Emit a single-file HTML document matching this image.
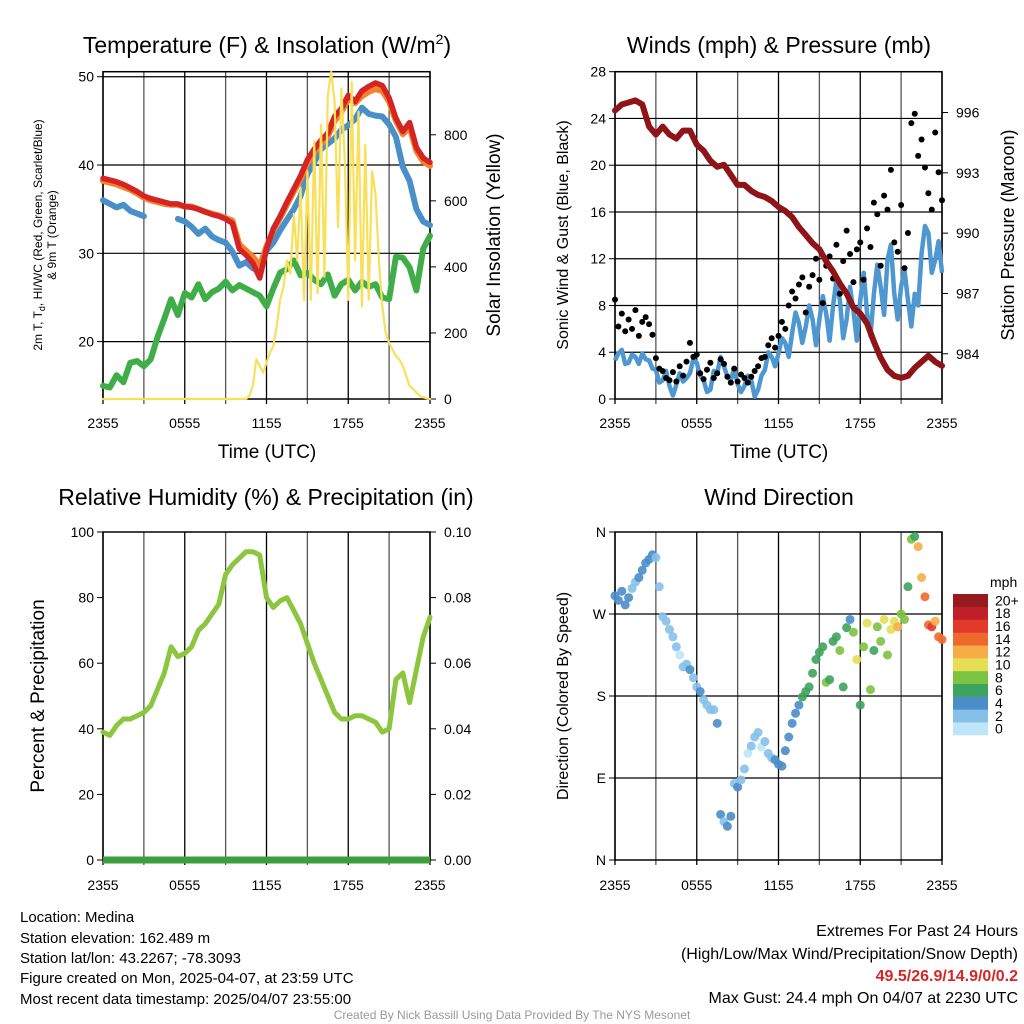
<!DOCTYPE html>
<html><head><meta charset="utf-8">
<style>
html,body{margin:0;padding:0;background:#fff;}
svg{display:block;font-family:"Liberation Sans",sans-serif;}
</style></head>
<body>
<svg id="chart" width="1024" height="1024" viewBox="0 0 1024 1024" xmlns="http://www.w3.org/2000/svg">
<rect width="1024" height="1024" fill="#fff"/>
<g id="p1"></g>
<g id="p2"></g>
<g id="p3"></g>
<g id="p4"></g>

<text x="267" y="53" font-size="23" text-anchor="middle">Temperature (F) &amp; Insolation (W/m<tspan font-size="14" dy="-9">2</tspan><tspan dy="9">)</tspan></text>
<text x="779" y="53" font-size="23" text-anchor="middle">Winds (mph) &amp; Pressure (mb)</text>
<text x="266" y="505" font-size="23" text-anchor="middle">Relative Humidity (%) &amp; Precipitation (in)</text>
<text x="779" y="505" font-size="23" text-anchor="middle">Wind Direction</text>

<text x="267" y="458" font-size="19" text-anchor="middle">Time (UTC)</text>
<text x="779" y="458" font-size="19" text-anchor="middle">Time (UTC)</text>

<text transform="translate(42,235) rotate(-90)" font-size="12" text-anchor="middle">2m T, T<tspan font-size="9" dy="3">d</tspan><tspan dy="-3">, HI/WC (Red, Green, Scarlet/Blue)</tspan></text>
<text transform="translate(56,235) rotate(-90)" font-size="12" text-anchor="middle">&amp; 9m T (Orange)</text>
<text transform="translate(500,235) rotate(-90)" font-size="19" text-anchor="middle">Solar Insolation (Yellow)</text>
<text transform="translate(568,235) rotate(-90)" font-size="16" text-anchor="middle">Sonic Wind &amp; Gust (Blue, Black)</text>
<text transform="translate(1014,235) rotate(-90)" font-size="18" text-anchor="middle">Station Pressure (Maroon)</text>
<text transform="translate(44,696) rotate(-90)" font-size="19" text-anchor="middle">Percent &amp; Precipitation</text>
<text transform="translate(568,696) rotate(-90)" font-size="16" text-anchor="middle">Direction (Colored By Speed)</text>

<g font-size="15">
<text x="20" y="922">Location: Medina</text>
<text x="20" y="943">Station elevation: 162.489 m</text>
<text x="20" y="963">Station lat/lon: 43.2267; -78.3093</text>
<text x="20" y="983">Figure created on Mon, 2025-04-07, at 23:59 UTC</text>
<text x="20" y="1004">Most recent data timestamp: 2025/04/07 23:55:00</text>
</g>
<g font-size="16" text-anchor="end">
<text x="1018" y="936">Extremes For Past 24 Hours</text>
<text x="1018" y="959">(High/Low/Max Wind/Precipitation/Snow Depth)</text>
<text x="1018" y="981" fill="#d62728" font-weight="bold">49.5/26.9/14.9/0/0.2</text>
<text x="1018" y="1003">Max Gust: 24.4 mph On 04/07 at 2230 UTC</text>
</g>
<text x="512" y="1019" font-size="12" fill="#999" text-anchor="middle">Created By Nick Bassill Using Data Provided By The NYS Mesonet</text>
</svg>
<script>
// ---------- data ----------
const xTickLabels = ["2355","0555","1155","1755","2355"];
const tempRed = [38.5,38.3,38.1,37.8,37.4,37.0,36.5,36.2,36.0,35.8,35.6,35.6,35.3,35.2,35.0,34.7,34.4,34.2,33.9,33.4,30.5,29.8,28.9,27.2,30.5,32.8,34.2,35.8,37.3,38.8,40.6,41.8,42.8,43.6,45.5,46.4,47.9,47.2,48.4,48.9,49.3,49.0,47.6,45.3,43.8,44.8,42.0,40.8,40.3];
const tempOrange = [38.2,38.0,37.8,37.5,37.2,36.8,36.3,36.0,35.8,35.6,35.5,35.5,35.3,35.3,35.0,34.7,34.5,34.3,34.0,33.7,31.0,30.3,29.6,28.6,30.8,32.6,34.0,35.5,37.0,38.4,40.2,41.4,42.4,43.2,45.0,46.0,47.5,47.0,47.8,48.3,48.6,48.4,47.2,45.0,43.5,44.3,41.6,40.4,39.9];
const tempBlue = [36.0,35.6,35.2,35.5,34.8,34.5,34.2,null,null,null,null,33.9,33.6,33.0,32.2,32.8,31.9,31.5,31.2,30.2,28.6,29.0,28.3,28.0,30.3,31.2,32.6,33.8,35.0,36.5,39.0,40.3,41.8,42.4,43.0,44.0,44.5,45.2,46.5,45.8,45.6,45.5,44.6,43.2,39.8,38.2,35.0,33.6,33.2];
const tempGreen = [15.0,14.8,16.2,15.4,17.6,17.8,17.2,18.0,20.5,22.6,24.8,23.0,25.5,25.0,26.5,24.8,25.6,26.0,26.8,25.8,26.4,26.0,25.6,25.2,24.0,26.0,27.8,28.2,29.2,27.5,27.8,27.0,26.5,27.6,25.2,26.5,27.0,25.8,26.8,26.2,26.5,25.0,24.8,29.6,29.5,28.4,25.8,30.5,32.0];
const solar = [0,0,0,0,0,0,0,0,0,0,0,0,0,0,0,0,0,0,0,0,0,0,0,0,0,0,0,0,0,0,0,0,0,0,0,0,0,0,0,0,0,0,
 0,10,40,120,100,80,110,140,160,220,300,340,420,380,560,420,640,300,690,300,780,320,830,370,920,990,900,520,940,720,300,960,420,870,280,770,300,690,620,420,280,200,170,150,130,120,100,70,40,30,20,10,5,2,0];
const tempTicks = [20,30,40,50];
const solarTicks = [0,200,400,600,800];

const pressure = [996.1,996.4,996.5,996.6,996.4,995.3,994.9,995.3,994.9,994.7,995.1,995.1,994.4,994.1,993.6,993.3,993.4,992.9,992.4,992.4,992.1,991.9,991.8,991.6,991.3,991.1,990.8,990.3,989.9,989.5,989.2,988.6,988.1,987.5,987.0,986.3,986.0,985.5,984.6,983.8,983.2,982.9,982.8,982.9,983.3,983.6,983.9,983.6,983.4];
const windSpeed = [3.3,3.9,4.2,3.0,3.1,3.8,3.6,3.0,3.9,3.4,3.3,2.6,2.5,1.4,1.6,2.4,1.1,0.3,1.2,2.2,1.5,1.8,2.2,3.4,3.1,2.0,1.6,0.6,0.8,2.4,2.2,3.6,2.8,1.9,1.6,2.6,1.3,0.6,1.1,2.0,1.6,0.2,0.8,2.0,2.5,4.0,3.6,2.8,3.9,5.2,4.8,3.6,5.6,7.4,6.5,4.8,6.2,8.0,6.8,4.6,6.8,8.8,7.3,5.0,7.9,10.2,8.5,5.2,6.8,9.6,7.6,5.0,8.5,10.8,7.3,5.4,9.0,11.5,9.6,7.2,11.9,13.2,9.0,6.8,9.6,11.0,8.5,6.2,9.0,8.0,12.5,14.8,14.2,10.8,11.9,13.5,10.8];
const windGust = [8.5,6.2,7.3,5.8,6.8,6.0,7.6,5.4,6.6,7.0,6.4,5.5,3.5,2.6,2.4,1.8,1.6,2.3,1.5,2.8,2.0,3.2,4.8,3.6,3.8,2.2,1.7,2.5,3.1,1.8,2.2,3.4,3.0,1.9,1.4,2.6,1.5,2.1,1.8,1.4,1.9,2.4,2.8,3.5,3.6,4.6,5.2,4.4,5.4,6.6,6.0,8.0,9.2,8.6,9.8,10.4,7.4,9.6,10.6,12.0,10.2,8.2,11.4,12.2,10.3,13.2,9.0,11.8,14.4,12.4,10.0,12.8,13.4,10.2,14.6,13.0,16.8,15.8,11.4,17.4,16.2,19.6,13.4,12.6,16.6,11.2,14.2,23.6,24.4,20.8,22.2,19.8,17.6,16.2,22.8,19.4,17.0];
const windTicks = [0,4,8,12,16,20,24,28];
const pressureTicks = [984,987,990,993,996];

const rh = [39,38,41,43,43,44,45,47,52,57,65,62,63,65,70,72,75,78,87,90,92,94,94,93,80,77,79,80,76,72,66,60,55,50,45,43,43,44,44,43,42,39,40,55,57,48,58,68,74];
const precip = [0,0,0,0,0,0,0,0,0,0,0,0,0,0,0,0,0,0,0,0,0,0,0,0,0];
const rhTicks = [0,20,40,60,80,100];
const precipTicks = ["0.00","0.02","0.04","0.06","0.08","0.10"];

const windDir = [290,285,295,280,288,298,305,310,318,326,330,335,332,300,267,262,253,245,234,225,212,215,209,200,190,185,176,170,165,165,150,50,42,37,48,84,80,88,100,117,125,135,140,124,130,117,112,110,105,103,120,135,150,161,170,179,185,190,205,220,228,234,195,198,240,245,230,190,255,264,250,220,170,234,260,187,230,256,240,264,225,253,262,256,270,264,300,352,355,344,310,289,258,256,262,245,242];
const dirSpeed = [3,3.5,4,3, 3.5,2.5,2.5,3, 3,3.5,3.5,3, 2.5,2,1.5,1, 1.5,2,1,0.5, 1,2,3,1.5, 1,3,2,1, 1.5,1,3.5,3, 2.5,3,3,2, 3.5,2,1,0.5, 1,2,1,0.5, 2,1,2.5,3, 3.5,4,3.5,4, 4,4.5,4,5, 5,6,5.5,6, 6,5,7,6, 5,6.5,7,5.5, 6,4,7.5,9, 6,7,10,8, 6.5,7,8.5,10, 7,9,10,12, 8,7,6.5,7, 6,11,12,14, 13,15,12,14, 14];
const dirTickLabels = ["N","E","S","W","N"];
const speedBinLabels = ["0","2","4","6","8","10","12","14","16","18","20+"];

// ---------- helpers ----------
const NS = "http://www.w3.org/2000/svg";
function mk(parent, tag, attrs){
  const e = document.createElementNS(NS, tag);
  for (const k in attrs) e.setAttribute(k, attrs[k]);
  parent.appendChild(e);
  return e;
}
function lin(d0,d1,r0,r1){ return v => r0 + (v-d0)*(r1-r0)/(d1-d0); }
function pathFrom(arr, xf, yf){
  let d = "", pen = false;
  const n = arr.length;
  arr.forEach((v,i)=>{
    if (v===null){ pen=false; return; }
    d += (pen?"L":"M") + xf(i*24/(n-1)).toFixed(1) + "," + yf(v).toFixed(1);
    pen = true;
  });
  return d;
}
function frame(g, P, vGrid, hVals, yf, leftLabels, rightVals, yr, rightLabels, bottomLabelY){
  const xf = lin(0,24,P.x0,P.x1);
  for (let h=0; h<=24; h+=3){
    const l = mk(g,"line",{x1:xf(h),x2:xf(h),y1:P.y0,y2:P.y1+5,stroke:(h%6===0?"#000":"#555"),"stroke-width":1.3});
    
    
  }
  hVals.forEach(v=>{
    const l = mk(g,"line",{x1:P.x0,x2:P.x1,y1:yf(v),y2:yf(v),stroke:"#000","stroke-width":1.2});
    
    
  });
  xTickLabels.forEach((t,i)=>{
    const tx = mk(g,"text",{x:xf(i*6),y:bottomLabelY,"font-size":14,"text-anchor":"middle"});
    tx.textContent = t;
    
    
  });
  leftLabels.forEach(([v,t])=>{
    mk(g,"line",{x1:P.x0-6,x2:P.x0,y1:yf(v),y2:yf(v),stroke:"#000"});
    const tx = mk(g,"text",{x:P.x0-9,y:yf(v)+5,"font-size":14,"text-anchor":"end"});
    tx.textContent = t;
    
    
  });
  if (rightVals){
    rightVals.forEach(([v,t])=>{
      mk(g,"line",{x1:P.x1,x2:P.x1+6,y1:yr(v),y2:yr(v),stroke:"#000"});
      const tx = mk(g,"text",{x:P.x1+14,y:yr(v)+5,"font-size":14});
      tx.textContent = t;
      
      
    });
  }
  const b = mk(g,"rect",{x:P.x0,y:P.y0,width:P.x1-P.x0,height:P.y1-P.y0,fill:"none",stroke:"#000","stroke-width":1.5});
  
  
  return xf;
}

// ---------- panel 1 ----------
(function(){
  const g = document.getElementById("p1");
  const P = {x0:103,x1:430,y0:71.7,y1:399};
  const yf = lin(13.5,50.57,P.y1,P.y0);
  const yr = lin(0,991,P.y1,P.y0);
  const xf = frame(g,P,true,tempTicks,yf,tempTicks.map(v=>[v,String(v)]),solarTicks.map(v=>[v,String(v)]),yr,null,428);
  const series = [[tempGreen,"#3fae49",6,"dewpoint-line"],[solar,"#f8e05a",2.2,"solar-line"],[tempOrange,"#f5822a",6,"temp-9m-line"],[tempBlue,"#4a90c8",6,"heat-index-line"],[tempRed,"#d42424",6,"temp-2m-line"]];
  // draw order: green, blue, orange, red, then solar on top
  [[tempGreen,"#3fae49",6,"dewpoint-line",yf],[tempBlue,"#4a90c8",6,"heat-index-line",yf],[tempOrange,"#f5822a",6,"temp-9m-line",yf],[tempRed,"#d42424",5.5,"temp-2m-line",yf],[solar,"#f8e05a",2.2,"solar-line",yr]].forEach(s=>{
    const p = mk(g,"path",{d:pathFrom(s[0],xf,s[4]),fill:"none",stroke:s[1],"stroke-width":s[2],"stroke-linejoin":"round","stroke-linecap":"round"});
    
    
  });
})();

// ---------- panel 2 ----------
(function(){
  const g = document.getElementById("p2");
  const P = {x0:615,x1:942,y0:71.7,y1:399};
  const yf = lin(0,28,P.y1,P.y0);
  const yr = lin(981.75,998.03,P.y1,P.y0);
  const xf = frame(g,P,true,windTicks.slice(1),yf,windTicks.map(v=>[v,String(v)]),pressureTicks.map(v=>[v,String(v)]),yr,null,428);
  const w = mk(g,"path",{d:pathFrom(windSpeed,xf,yf),fill:"none",stroke:"#4f97d0","stroke-width":4.5,"stroke-linejoin":"round"});
  
  
  windGust.forEach((v,i)=>{
    const c = mk(g,"circle",{cx:xf(i*24/(windGust.length-1)),cy:yf(v),r:3,fill:"#000"});
    
    
  });
  const p = mk(g,"path",{d:pathFrom(pressure,xf,yr),fill:"none",stroke:"#8e1418","stroke-width":6,"stroke-linejoin":"round","stroke-linecap":"round"});
  
  
})();

// ---------- panel 3 ----------
(function(){
  const g = document.getElementById("p3");
  const P = {x0:103,x1:430,y0:532,y1:860};
  const yf = lin(0,100,P.y1,P.y0);
  const xf = frame(g,P,true,[],yf,rhTicks.map(v=>[v,String(v)]),rhTicks.map((v,i)=>[v,precipTicks[i]]),yf,null,890);
  const pr = mk(g,"path",{d:pathFrom(precip,xf,lin(0,0.1,P.y1,P.y0)),fill:"none",stroke:"#3c9e3c","stroke-width":7});
  
  
  const l = mk(g,"path",{d:pathFrom(rh,xf,yf),fill:"none",stroke:"#8cc63f","stroke-width":5,"stroke-linejoin":"round","stroke-linecap":"round"});
  
  
})();

// ---------- panel 4 ----------
(function(){
  const g = document.getElementById("p4");
  const P = {x0:615,x1:942,y0:532,y1:860};
  const yf = lin(0,360,P.y1,P.y0);
  const xf = frame(g,P,true,[90,180,270],yf,dirTickLabels.map((t,i)=>[i*90,t]),null,null,null,890);
  const colors = ["#bfe5f8","#86c0e9","#4a8dc9","#3ea35e","#7cc243","#e6de55","#f6ad47","#ee6a2c","#e2392b","#c11f27","#971b1e"];
  windDir.forEach((v,i)=>{
    const bin = Math.min(10, Math.round(dirSpeed[i]/2));
    const c = mk(g,"circle",{cx:xf(i*24/(windDir.length-1)),cy:yf(v),r:4.5,fill:colors[bin],"fill-opacity":0.9});
    
    
  });
  // colorbar
  const top=594, bot=735, h=(bot-top)/colors.length;
  colors.forEach((c,i)=>{
    const r = mk(g,"rect",{x:953,y:bot-(i+1)*h,width:35,height:h+0.3,fill:c});
    
    
    const t = mk(g,"text",{x:995,y:bot-(i+0.5)*h+5,"font-size":14});
    t.textContent = speedBinLabels[i];
    
    
  });
  const u = mk(g,"text",{x:990,y:587,"font-size":14});
  u.textContent = "mph";
  
  
})();
</script>
</body></html>
